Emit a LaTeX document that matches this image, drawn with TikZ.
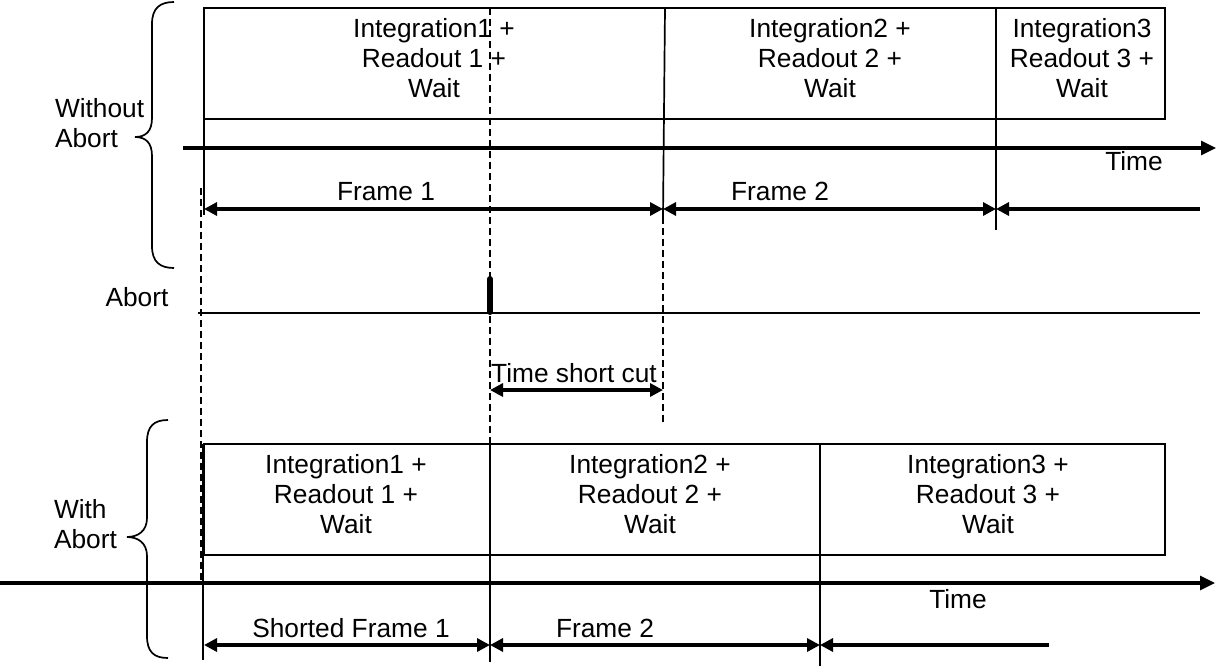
\documentclass[tikz,border=0pt]{standalone}
\usepackage{fontspec}
\setmainfont{Liberation Sans}
\usetikzlibrary{arrows.meta}
\begin{document}
\begin{tikzpicture}[x=1pt,y=-1pt,
  lbl/.style={font=\fontsize{26.3}{30}\selectfont, inner sep=0pt, outer sep=0pt},
  boxtxt/.style={lbl, align=center, anchor=north},
  sidetxt/.style={lbl, align=left, anchor=north west},
  basetxt/.style={lbl, anchor=base},
  thinln/.style={line width=1.7pt},
  thickln/.style={line width=3.2pt},
  dashln/.style={line width=2.8pt, dash pattern=on 7pt off 4pt},
  dim/.style={thickln, {Triangle[length=13pt,width=13pt]}-{Triangle[length=13pt,width=13pt]}},
  dimL/.style={thickln, {Triangle[length=13pt,width=13pt]}-},
  axis/.style={thickln, -{Triangle[length=15pt,width=14pt]}},
  brace/.style={line width=1.7pt}
]
\useasboundingbox (0,0) rectangle (1220,667);

% ---------- Without Abort ----------
\draw[thinln] (204,8) rectangle (1165,119);
\draw[thinln] (204,8) -- (204,215);
\draw[thinln] (665,8) -- (663,217);
\draw[thinln] (996,8) -- (996,230);

\node[boxtxt] (wa1) at (434,18) {Integration1 +\\Readout 1 +\\Wait};
\node[boxtxt] (wa2) at (830,18) {Integration2 +\\Readout 2 +\\Wait};
\node[boxtxt] (wa3) at (1082,18) {Integration3\\Readout 3 +\\Wait};

\coordinate (ax0) at (183,148);
\coordinate (ax1) at (1216,148);
\draw[axis] (ax0) -- (ax1);
\node[basetxt] (time1) at (1134,170) {Time};

\coordinate (f0) at (204,209);
\coordinate (f1) at (663,209);
\coordinate (f2) at (996,209);
\coordinate (f3) at (1200,209);
\draw[dim] (f0) -- (f1);
\draw[dim] (f1) -- (f2);
\draw[dimL] (f2) -- (f3);
\node[basetxt] (fr1) at (386,200) {Frame 1};
\node[basetxt] (fr2) at (780,200) {Frame 2};

\draw[brace] (174,2) .. controls (160,2) and (152,8) .. (152,24) -- (152,118)
  .. controls (152,131) and (146,137) .. (135,137)
  .. controls (146,137) and (152,143) .. (152,156) -- (152,246)
  .. controls (152,262) and (160,268) .. (174,268);
\node[sidetxt] (woa) at (55,98) {Without\\Abort};

% ---------- Abort line ----------
\coordinate (ab0) at (198,313);
\coordinate (ab1) at (1200,313);
\draw[thinln] (ab0) -- (ab1);
\coordinate (abtop) at (490,279);
\coordinate (abbot) at (490,312);
\draw[line width=6pt, line cap=round] (abtop) -- (abbot);
\node[basetxt] (abortlbl) at (137,306) {Abort};

% dashed guide lines
\draw[dashln] (201,188) -- (201,583);
\draw[dashln] (490,8) -- (490,445);
\draw[dashln] (663,217) -- (663,425);

% time short cut
\coordinate (sc0) at (490,390);
\coordinate (sc1) at (663,390);
\draw[dim] (sc0) -- (sc1);
\node[basetxt] (sclbl) at (574,382) {Time short cut};

% ---------- With Abort ----------
\draw[thinln] (204,444) rectangle (1165,555);
\draw[thinln] (203,444) -- (203,660);
\draw[thinln] (490,444) -- (490,662);
\draw[thinln] (820,444) -- (820,666);

\node[boxtxt] (wb1) at (346,454) {Integration1 +\\Readout 1 +\\Wait};
\node[boxtxt] (wb2) at (650,454) {Integration2 +\\Readout 2 +\\Wait};
\node[boxtxt] (wb3) at (988,454) {Integration3 +\\Readout 3 +\\Wait};

\coordinate (bx0) at (0,583);
\coordinate (bx1) at (1215,583);
\draw[axis] (bx0) -- (bx1);
\node[basetxt] (time2) at (958,608) {Time};

\coordinate (g0) at (204,645);
\coordinate (g1) at (490,645);
\coordinate (g2) at (820,645);
\coordinate (g3) at (1049,645);
\draw[dim] (g0) -- (g1);
\draw[dim] (g1) -- (g2);
\draw[dimL] (g2) -- (g3);
\node[basetxt] (sf1) at (351,637) {Shorted Frame 1};
\node[basetxt] (sf2) at (605,637) {Frame 2};

\draw[brace] (168,420) .. controls (154,420) and (147,426) .. (147,442) -- (147,518)
  .. controls (147,531) and (138,537) .. (127,537)
  .. controls (138,537) and (147,543) .. (147,556) -- (147,636)
  .. controls (147,652) and (154,658) .. (168,658);
\node[sidetxt] (wia) at (54,499) {With\\Abort};

\end{tikzpicture}
\end{document}
